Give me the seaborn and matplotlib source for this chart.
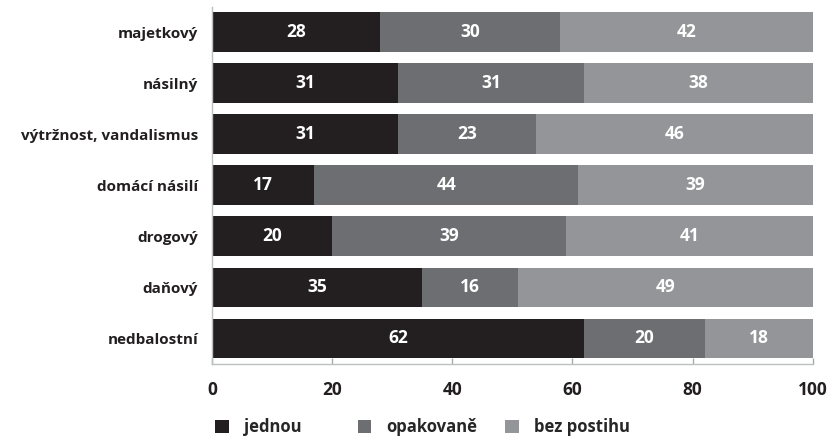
import pandas as pd
import numpy as np
import seaborn as sns
import matplotlib.pyplot as plt

categories = ["majetkový", "násilný", "výtržnost, vandalismus", "domácí násilí",
              "drogový", "daňový", "nedbalostní"]
jednou = [28, 31, 31, 17, 20, 35, 62]
opakovane = [30, 31, 23, 44, 39, 16, 20]
bez_postihu = [42, 38, 46, 39, 41, 49, 18]
series_names = ["jednou", "opakovaně", "bez postihu"]
colors = ["#231f20", "#6d6e71", "#939598"]

sns.set_style("white")
plt.rcParams["font.family"] = ["Open Sans", "DejaVu Sans"]
plt.rcParams["font.weight"] = "bold"

df = pd.DataFrame({"kat": categories, "jednou": jednou,
                   "opakovaně": opakovane, "bez postihu": bez_postihu})
df["c1"] = df["jednou"]
df["c2"] = df["jednou"] + df["opakovaně"]
df["c3"] = df["c2"] + df["bez postihu"]

fig, ax = plt.subplots(figsize=(8.31, 4.37), dpi=100)
fig.subplots_adjust(left=0.255, right=0.978, top=0.985, bottom=0.167)

# draw cumulative bars from the longest to the shortest
for col, name, c in zip(["c3", "c2", "c1"], series_names[::-1], colors[::-1]):
    sns.barplot(data=df, y="kat", x=col, color=c, orient="h", width=0.78,
                ax=ax, label=name, saturation=1, linewidth=0)

for i, row in df.iterrows():
    starts = [0, row["c1"], row["c2"]]
    for s, v in zip(starts, [row["jednou"], row["opakovaně"], row["bez postihu"]]):
        ax.text(s + v / 2, i, str(v), ha="center", va="center", color="white",
                fontsize=12.5, fontweight="bold")

ax.set_xlim(0, 100)
ax.set_ylim(6.5, -0.5)
ax.set_xticks([0, 20, 40, 60, 80, 100])
ax.set_xlabel("")
ax.set_ylabel("")
ax.tick_params(axis="x", bottom=True, direction="in", length=4.5, width=1,
               color="#a7a9ac", pad=12, labelsize=12.5)
ax.tick_params(axis="y", length=0, pad=10, labelsize=11)
for lab in ax.get_xticklabels() + ax.get_yticklabels():
    lab.set_fontweight("bold")
    lab.set_color("#231f20")
for s in ["top", "right"]:
    ax.spines[s].set_visible(False)
for s in ["left", "bottom"]:
    ax.spines[s].set_color("#bcbec0")
    ax.spines[s].set_linewidth(1)

# one legend entry per position, like the evenly spaced original
handles, labels = ax.get_legend_handles_labels()
legend_x = [0.259, 0.431, 0.608]
for name, lx in zip(series_names, legend_x):
    h = handles[labels.index(name)]
    fig.legend([h], [name], loc="center left", bbox_to_anchor=(lx, 0.023),
               frameon=False, handlelength=0.8, handleheight=0.8,
               handletextpad=0.9, borderpad=0, borderaxespad=0,
               prop={"weight": "bold", "size": 12})
if ax.legend_:
    ax.legend_.remove()

fig.savefig("out.png", dpi=100)
